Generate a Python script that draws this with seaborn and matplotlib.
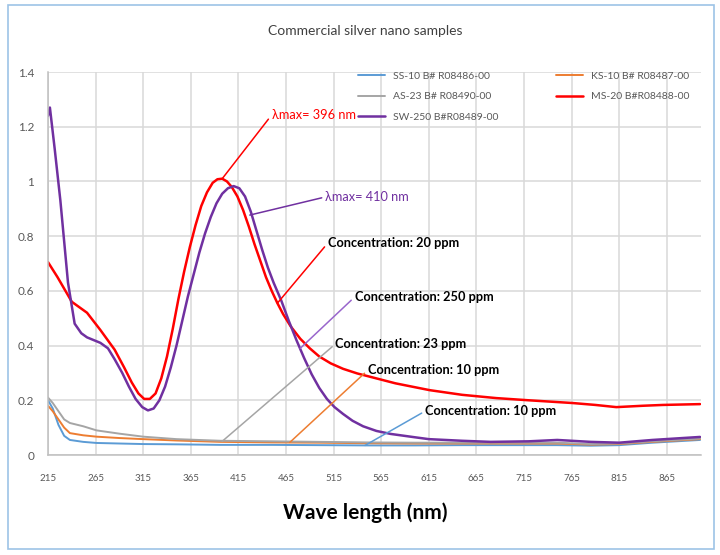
import matplotlib.pyplot as plt
import seaborn as sns
from matplotlib.patches import Rectangle
from matplotlib.ticker import FuncFormatter

# wavelength (nm) / absorbance
wl_low = [215, 220, 226, 232, 238, 252, 266, 290, 315, 350, 396, 450, 500, 550, 600, 650, 700, 750, 785, 815, 850, 900]
ss10 = [0.20, 0.17, 0.11, 0.07, 0.055, 0.048, 0.044, 0.042, 0.040, 0.039, 0.037, 0.037, 0.036, 0.035, 0.035, 0.036, 0.036, 0.036, 0.034, 0.036, 0.045, 0.055]
ks10 = [0.18, 0.16, 0.13, 0.10, 0.080, 0.072, 0.067, 0.062, 0.058, 0.053, 0.048, 0.046, 0.045, 0.043, 0.042, 0.042, 0.042, 0.042, 0.038, 0.040, 0.048, 0.058]
as23 = [0.21, 0.19, 0.16, 0.13, 0.117, 0.105, 0.090, 0.078, 0.067, 0.058, 0.052, 0.050, 0.048, 0.046, 0.045, 0.045, 0.045, 0.045, 0.040, 0.042, 0.050, 0.060]

wl_ms = [215, 225, 240, 256, 270, 285, 295, 303, 310, 316, 322, 328, 334, 340, 346, 352, 358, 364, 370, 376, 382, 388, 393, 398,
         403, 408, 414, 420, 426, 432, 438, 444, 450, 456, 462, 470, 480, 490, 500, 512, 525, 540, 560, 580, 616, 650, 686, 720,
         766, 790, 812, 840, 861, 900]
ms20 = [0.705, 0.65, 0.56, 0.52, 0.457, 0.385, 0.32, 0.265, 0.225, 0.205, 0.205, 0.225, 0.28, 0.36, 0.46, 0.57, 0.67, 0.76, 0.84, 0.91, 0.96, 0.995, 1.008, 1.01,
        1.0, 0.98, 0.945, 0.895, 0.835, 0.77, 0.71, 0.65, 0.6, 0.555, 0.515, 0.47, 0.425, 0.39, 0.36, 0.335, 0.315, 0.298, 0.28, 0.262, 0.237, 0.22, 0.208, 0.20,
        0.19, 0.183, 0.175, 0.18, 0.183, 0.186]

wl_sw = [215, 217, 222, 228, 236, 243, 250, 256, 263, 270, 278, 285, 293, 300, 307, 314, 320, 326, 332, 338, 344, 350, 356, 362, 368, 374,
         380, 386, 392, 398, 404, 410, 416, 422, 428, 434, 440, 446, 452, 460, 468, 476, 484, 492, 500, 508, 516, 525, 535, 546,
         560, 575, 600, 615, 650, 680, 720, 750, 785, 815, 850, 900]
sw250 = [1.24, 1.27, 1.12, 0.93, 0.63, 0.48, 0.445, 0.43, 0.42, 0.41, 0.39, 0.35, 0.30, 0.25, 0.205, 0.175, 0.163, 0.17, 0.2, 0.25, 0.32, 0.4, 0.49, 0.58, 0.66, 0.74,
         0.81, 0.87, 0.92, 0.955, 0.975, 0.983, 0.975, 0.945, 0.89, 0.82, 0.75, 0.685, 0.63, 0.565, 0.49, 0.42, 0.355, 0.295, 0.245, 0.205, 0.175, 0.15, 0.125, 0.105,
         0.088, 0.077, 0.065, 0.058, 0.052, 0.048, 0.050, 0.055, 0.048, 0.045, 0.055, 0.066]

labels = ['SS-10 B# R08486-00', 'KS-10 B# R08487-00', 'AS-23 B# R08490-00', 'MS-20 B#R08488-00', 'SW-250 B#R08489-00']
colors = ['#5B9BD5', '#ED7D31', '#A5A5A5', '#FF0000', '#7030A0']

# (text, point on curve, text position, line colour, text colour)
notes = [
    ('λmax= 396 nm', (398, 1.01), (450, 1.243), '#FF0000', '#FF0000'),
    ('λmax= 410 nm', (427, 0.877), (506, 0.943), '#7030A0', '#7030A0'),
    ('Concentration: 20 ppm', (456, 0.555), (509, 0.775), '#FF0000', 'black'),
    ('Concentration: 250 ppm', (480, 0.39), (537, 0.577), '#9966CC', 'black'),
    ('Concentration: 23 ppm', (398, 0.05), (517, 0.406), '#A5A5A5', 'black'),
    ('Concentration: 10 ppm', (469, 0.046), (551, 0.31), '#ED7D31', 'black'),
    ('Concentration: 10 ppm', (548, 0.035), (611, 0.16), '#5B9BD5', 'black'),
]

sns.set_style('whitegrid', {'grid.color': '#D9D9D9', 'axes.edgecolor': '#BFBFBF'})
plt.rcParams['font.family'] = ['Lato', 'DejaVu Sans']

fig = plt.figure(figsize=(7.2, 5.55), dpi=100)
ax = fig.add_axes([48 / 720, 100 / 555, 653 / 720, 383 / 555])

series = [(wl_low, ss10), (wl_low, ks10), (wl_low, as23), (wl_ms, ms20), (wl_sw, sw250)]
lw = [1.4, 1.4, 1.4, 1.8, 1.8]
for (x, y), lab, c, w in zip(series, labels, colors, lw):
    sns.lineplot(x=x, y=y, ax=ax, color=c, linewidth=w, label=lab)

for txt, xy, xyt, lc, tc in notes:
    ax.annotate(txt, xy=xy, xytext=xyt, textcoords='data', color=tc,
                fontsize=9.2, fontweight='bold' if tc == 'black' else 'normal',
                va='center', ha='left',
                arrowprops=dict(arrowstyle='-', color=lc, lw=1.1, shrinkA=0, shrinkB=0,
                                relpos=(0, 0.5)))

ax.set_xlim(215, 901)
ax.set_ylim(0, 1.4)
ax.set_xticks(range(215, 900, 50))
ax.set_yticks([0, 0.2, 0.4, 0.6, 0.8, 1.0, 1.2, 1.4])
ax.yaxis.set_major_formatter(FuncFormatter(lambda v, p: f'{v:g}'))
ax.tick_params(axis='x', length=0, pad=14, labelsize=7, labelcolor='#595959')
ax.tick_params(axis='y', length=0, pad=10, labelsize=8.5, labelcolor='#595959')
ax.grid(True, color='#D9D9D9', linewidth=1.1)
for s in ['top', 'right']:
    ax.spines[s].set_visible(False)
for s in ['left', 'bottom']:
    ax.spines[s].set_color('#BFBFBF')
    ax.spines[s].set_linewidth(1.1)
ax.set_xlabel('')
ax.set_ylabel('')

h, l = ax.get_legend_handles_labels()
order = [0, 2, 4, 1, 3]
ax.legend([h[i] for i in order], [l[i] for i in order], ncol=2, loc='upper left',
          bbox_to_anchor=(0.46, 1.025), frameon=False, fontsize=7.5,
          handlelength=2.6, columnspacing=5.5, labelspacing=1.05, labelcolor='#595959')

fig.text(0.507, 0.945, 'Commercial silver nano samples', ha='center', va='center',
         fontsize=10, color='#404040')
fig.text(0.507, 0.076, 'Wave length (nm)', ha='center', va='center',
         fontsize=15, fontweight='bold', color='black')

fig.patches.append(Rectangle((8 / 720, 6 / 555), 706 / 720, 544 / 555, transform=fig.transFigure,
                             fill=False, edgecolor='#9DC3E6', linewidth=1.2))

fig.savefig('out.png', dpi=100)
